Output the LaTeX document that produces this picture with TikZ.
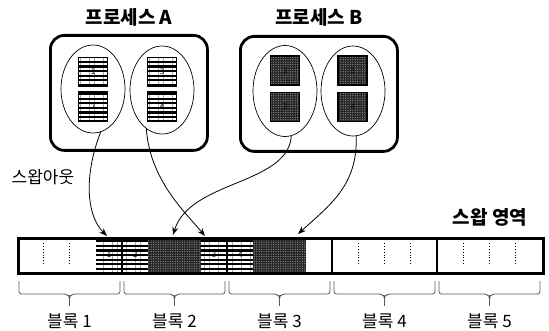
\documentclass[tikz,border=0pt]{standalone}
\usepackage{fontspec}
\setmainfont{Noto Sans CJK KR}
\usetikzlibrary{patterns.meta,arrows.meta,shapes.geometric}
\begin{document}
\begin{tikzpicture}[x=1pt,y=-1pt,
  procbox/.style={draw, line width=2.8pt, rounded corners=14pt, minimum width=157pt, minimum height=115pt, anchor=north west, inner sep=0pt},
  grp/.style={draw, ellipse, line width=0.7pt, inner sep=0pt, minimum width=64pt, minimum height=88pt},
  sq/.style={draw, line width=1.6pt, minimum size=29pt, inner sep=0pt, font=\fontsize{8}{8}\selectfont},
  striped/.style={pattern={Lines[angle=0,distance=4.6pt,line width=2.5pt]}, pattern color=white, preaction={fill=black}},
  dark/.style={pattern={Dots[distance=2.4pt,radius=0.6pt]}, pattern color=black!40, preaction={fill=black!85}},
  cellbox/.style={minimum width=26.25pt, minimum height=35pt, anchor=north west, inner sep=0pt, font=\fontsize{8}{8}\selectfont},
  title/.style={font=\fontsize{19}{19}\selectfont\bfseries},
  lbl/.style={font=\fontsize{17}{17}\selectfont},
  arr/.style={-{Stealth[length=8pt,width=6pt]}, line width=0.8pt},
  br/.style={draw=black!65, line width=0.8pt},
  sep/.style={dotted, line width=0.9pt}
]
\useasboundingbox (0,0) rectangle (549,331);

% titles
\node[title] (tA) at (129,17) {프로세스 A};
\node[title] (tB) at (319,17) {프로세스 B};

% process boxes
\node[procbox] (pA) at (49,34) {};
\node[procbox] (pB) at (239,35) {};

% groups (ellipses)
\node[grp] (eA1) at (93,89) {};
\node[grp] (eA2) at (162,90) {};
\node[grp, minimum height=91pt] (eB1) at (285,91) {};
\node[grp, minimum height=90pt] (eB2) at (353,91) {};

% pages in process A
\node[sq, striped] (a1) at (93,72) {1};
\node[sq, striped] (a2) at (93,106.5) {2};
\node[sq, striped] (a3) at (162,72) {3};
\node[sq, striped] (a4) at (162,106.5) {4};
% pages in process B
\node[sq, dark] (b1) at (285,70.5) {1};
\node[sq, dark] (b2) at (285,107) {2};
\node[sq, dark] (b3) at (352.5,70.5) {3};
\node[sq, dark] (b4) at (352.5,107) {4};

% swap area cells
\node[cellbox, striped] (c4) at (95.75,237) {1};
\node[cellbox, striped] (c5) at (122,237) {2};
\node[cellbox, dark] (c6) at (148.25,237) {};
\node[cellbox, dark] (c7) at (174.5,237) {};
\node[cellbox, striped] (c8) at (200.75,237) {3};
\node[cellbox, striped] (c9) at (227,237) {4};
\node[cellbox, dark] (c10) at (253.25,237) {};
\node[cellbox, dark] (c11) at (279.5,237) {};

% dotted separators in empty cells
\foreach \x in {43.25,69.5,358.25,384.5,410.75,463.25,489.5,515.75}
  \draw[sep] (\x,243) -- (\x,266);

% bar outline and block dividers
\node[draw, line width=3pt, minimum width=525pt, minimum height=35pt, anchor=north west, inner sep=0pt] (bar) at (17,237) {};
\foreach \x in {122,227,332,437}
  \draw[line width=2.6pt] (\x,237) -- (\x,272);

% labels
\node[lbl] (so) at (43,177) {스왑아웃};
\node[title] (sa) at (490,217) {스왑 영역};

% braces and block labels
\foreach \l/\r/\n in {17/122/1,122/227/2,227/332/3,332/437/4,437/542/5}{
  \pgfmathsetmacro\c{(\l+\r)/2}
  \draw[br, rounded corners=2.5pt] (\l+2,281) -- (\l+2,294) -- (\c-3,294) -- (\c,297) -- (\c+3,294) -- (\r-2,294) -- (\r-2,281);
  \draw[br] (\c,297) -- (\c,306);
  \node[lbl] (blk\n) at (\c,321) {블록 \n};
}

% targets
\coordinate (t1) at (107,236);
\coordinate (t2) at (205,236);
\coordinate (t3) at (173,235);
\coordinate (t4) at (298,234);

% swap-out arrows
\draw[arr] (eA1.-80) .. controls (84,175) and (86,215) .. (t1);
\draw[arr] (eA2.-112) .. controls (150,180) and (185,212) .. (t2);
\draw[arr] (eB1.-82) .. controls (288,185) and (190,180) .. (t3);
\draw[arr] (eB2.-86) .. controls (358,185) and (330,205) .. (t4);
\end{tikzpicture}
\end{document}
